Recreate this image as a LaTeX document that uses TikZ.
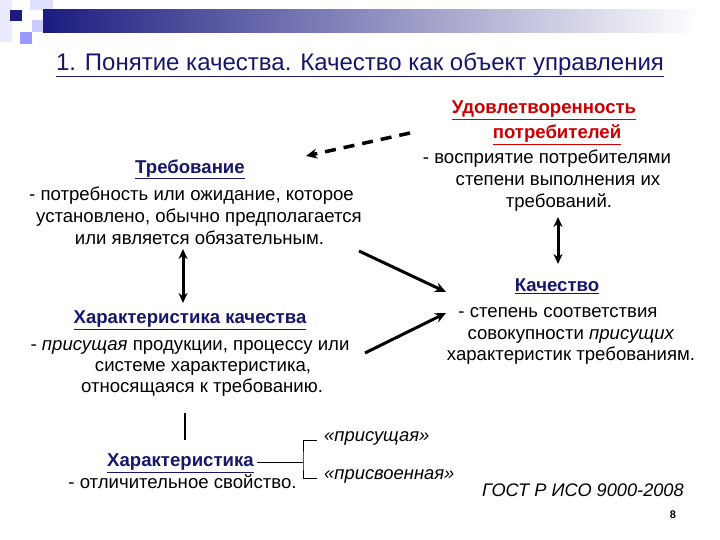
\documentclass[tikz,border=0pt]{standalone}
\usepackage{fontspec}
\setmainfont{Liberation Sans}
\usetikzlibrary{arrows.meta}
\definecolor{navy}{HTML}{16166A}
\definecolor{redh}{HTML}{CC0000}
\definecolor{barblue}{HTML}{1C1C80}
\tikzset{
  body/.style={align=center, font=\fontsize{18.6}{22}\selectfont, inner sep=0pt},
  thickarrow/.style={line width=3pt, -{Stealth[length=11pt,width=10pt]}},
  dblarrow/.style={line width=3pt, {Stealth[length=10pt,width=9pt]}-{Stealth[length=10pt,width=9pt]}},
  plainline/.style={line width=0.8pt},
}
\begin{document}
\begin{tikzpicture}[x=1pt,y=-1pt]
\useasboundingbox (0,0) rectangle (720,540);
% decoration
\fill[color=blue!8] (0,0) rectangle (12,42);
\fill[color=blue!12] (30,0) rectangle (53,10);
\fill[color=blue!20] (32,20) rectangle (44,32);
\fill[color=blue!40] (20,32) rectangle (32,44);
\fill[barblue] (10,10) rectangle (22,21);
\shade[left color=barblue, right color=white] (43,10) rectangle (700,33);
% title
\node[inner sep=0pt, text=navy, font=\fontsize{24}{28}\selectfont] (title) at (360,65) {\underline{1. Понятие качества. Качество как объект управления}};
% Udovl
\node[body] (udov) at (547,156.5) {\hspace*{-6pt}{\bfseries\color{redh}\underline{Удовлетворенность}}\\[3pt]
\hspace*{20pt}{\bfseries\color{redh}\underline{потребителей}}\\[3pt]
- восприятие потребителями\\
\hspace*{22pt}степени выполнения их\\
\hspace*{24pt}требований.};
% Trebovanie
\node[body] (treb) at (191.5,202) {\hspace*{-3pt}{\bfseries\color{navy}\underline{Требование}}\\[5pt]
- потребность или ожидание, которое\\
\hspace*{15pt}установлено, обычно предполагается\\
\hspace*{16pt}или является обязательным.};
% Kharakteristika kachestva
\node[body, font=\fontsize{18.6}{21}\selectfont] (khk) at (190,354) {{\bfseries\color{navy}\underline{Характеристика качества}}\\[6pt]
- \textit{присущая} продукции, процессу или\\
\hspace*{26pt}системе характеристика,\\
\hspace*{24pt}относящаяся к требованию.};
% Kachestvo
\node[body, font=\fontsize{18.6}{21.5}\selectfont] (kach) at (571,321.5) {\hspace*{-28pt}{\bfseries\color{navy}\underline{Качество}}\\[5pt]
\hspace*{-26pt}- степень соответствия\\
совокупности \textit{присущих}\\
характеристик требованиям.};
% Kharakteristika
\node[body] (kh) at (182.5,471.5) {\hspace*{-4pt}{\bfseries\color{navy}\underline{Характеристика}}\\
- отличительное свойство.};
% options
\node[body, anchor=west, font=\fontsize{18.4}{22}\selectfont\itshape] (pris) at (324,438) {«присущая»};
\node[body, anchor=west, font=\fontsize{18.4}{22}\selectfont\itshape] (prisv) at (324,476) {«присвоенная»};
% GOST
\node[body, anchor=west, font=\fontsize{18.2}{22}\selectfont\itshape] (gost) at (482,490) {ГОСТ Р ИСО 9000-2008};
\node[inner sep=0pt, font=\fontsize{11}{13}\selectfont\bfseries] (page) at (673,515) {8};
% coordinates for connectors
\coordinate (dashS) at (410,133);
\coordinate (dashE) at (306,156);
\coordinate (a1s) at (183,249);
\coordinate (a1e) at (183,303);
\coordinate (a2s) at (558,217);
\coordinate (a2e) at (558,264);
\coordinate (a3s) at (359,251);
\coordinate (a3e) at (446,292);
\coordinate (a4s) at (365,353);
\coordinate (a4e) at (446,313);
\coordinate (v1s) at (185,413);
\coordinate (v1e) at (185,440);
\coordinate (bL) at (257,462);
\coordinate (bM) at (303,462);
\coordinate (bT) at (317,440);
\coordinate (bB) at (317,478);
% connectors
\draw[line width=3.5pt, dash pattern=on 11pt off 8pt, -{Stealth[length=11pt,width=10pt]}] (dashS) -- (dashE);
\draw[dblarrow] (a1s) -- (a1e);
\draw[dblarrow] (a2s) -- (a2e);
\draw[thickarrow] (a3s) -- (a3e);
\draw[thickarrow] (a4s) -- (a4e);
\draw[line width=2.5pt] (v1s) -- (v1e);
\draw[plainline] (bL) -- (bM);
\draw[plainline] (bT) -| (bM) |- (bB);
\end{tikzpicture}
\end{document}
